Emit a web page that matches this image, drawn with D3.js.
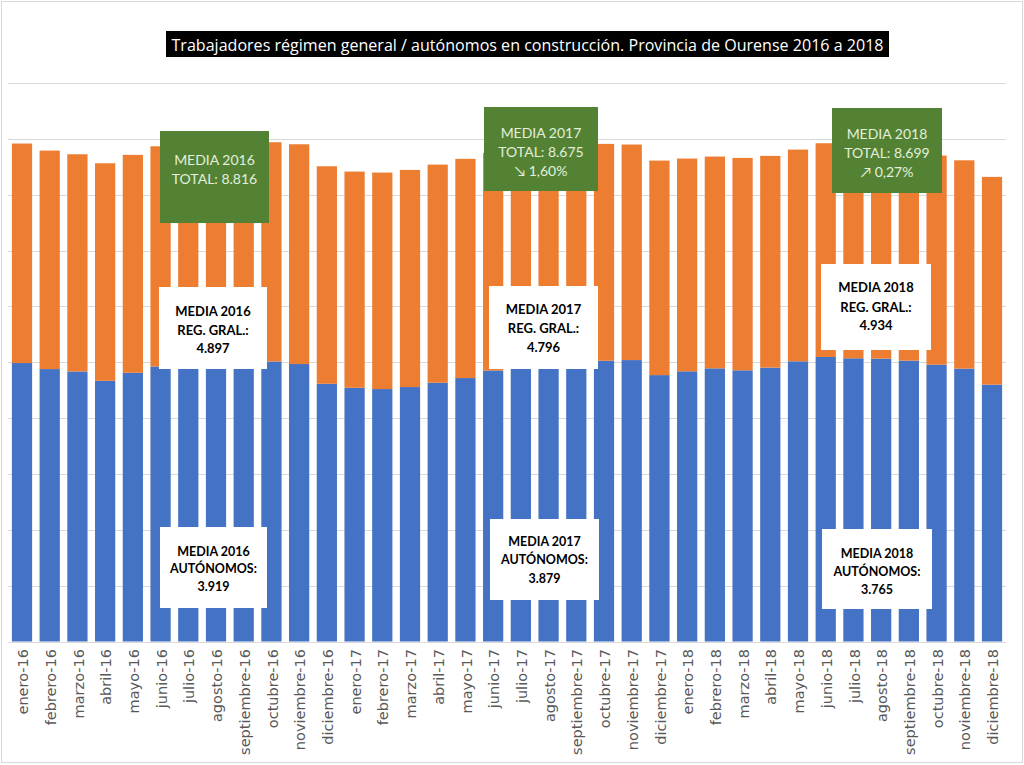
<!DOCTYPE html>
<html>
<head>
<meta charset="utf-8">
<script src="https://cdn.jsdelivr.net/npm/d3@7"></script>
<style>
  html, body { margin: 0; padding: 0; background: #fff; }
  svg { display: block; }
</style>
</head>
<body>
<svg id="chart" width="1024" height="765"></svg>
<script>
// ---------- DATA ----------
const months = [
  "enero-16","febrero-16","marzo-16","abril-16","mayo-16","junio-16","julio-16","agosto-16","septiembre-16","octubre-16","noviembre-16","diciembre-16",
  "enero-17","febrero-17","marzo-17","abril-17","mayo-17","junio-17","julio-17","agosto-17","septiembre-17","octubre-17","noviembre-17","diciembre-17",
  "enero-18","febrero-18","marzo-18","abril-18","mayo-18","junio-18","julio-18","agosto-18","septiembre-18","octubre-18","noviembre-18","diciembre-18"
];
// Régimen general (blue, bottom)
const regimenGeneral = [
  4986,4878,4835,4668,4812,4925,5030,5010,5023,5014,4968,4615,
  4543,4520,4556,4633,4717,4853,4950,4965,4979,5027,5039,4770,
  4838,4891,4856,4904,5017,5094,5071,5065,5029,4957,4886,4599
];
// Autónomos (orange, stacked on top)
const autonomos = [
  3930,3912,3889,3895,3901,3942,3945,3925,3935,3925,3935,3894,
  3871,3876,3888,3906,3925,3896,3885,3855,3863,3883,3859,3841,
  3809,3792,3803,3791,3791,3827,3779,3715,3680,3744,3730,3720
];
const yTicks = [0,1000,2000,3000,4000,5000,6000,7000,8000,9000,10000];
const title = "Trabajadores régimen general / autónomos en construcción. Provincia de Ourense 2016 a 2018";

const totalBoxes = [
  { lines: ["MEDIA 2016", "TOTAL: 8.816"] },
  { lines: ["MEDIA 2017", "TOTAL: 8.675", "↘ 1,60%"] },
  { lines: ["MEDIA 2018", "TOTAL: 8.699", "↗ 0,27%"] }
];
const regBoxes = [
  { lines: ["MEDIA 2016", "REG. GRAL.:", "4.897"] },
  { lines: ["MEDIA 2017", "REG. GRAL.:", "4.796"] },
  { lines: ["MEDIA 2018", "REG. GRAL.:", "4.934"] }
];
const autBoxes = [
  { lines: ["MEDIA 2016", "AUTÓNOMOS:", "3.919"] },
  { lines: ["MEDIA 2017", "AUTÓNOMOS:", "3.879"] },
  { lines: ["MEDIA 2018", "AUTÓNOMOS:", "3.765"] }
];

// ---------- LAYOUT ----------
const svg = d3.select("#chart");
const W = 1024, H = 765;
const blue = "#4472C4", orange = "#ED7D31", green = "#548235";

svg.append("rect").attr("x", 1.5).attr("y", 1.5).attr("width", W - 3).attr("height", H - 4)
  .attr("fill", "#fff").attr("stroke", "#d9d9d9").attr("stroke-width", 1);

const x = d3.scaleBand().domain(months).range([8, 1006]).paddingInner(0.27).paddingOuter(0.14);
const y = d3.scaleLinear().domain([0, 10000]).range([641.5, 83]);

// gridlines
svg.append("g").selectAll("line").data(yTicks).join("line")
  .attr("x1", 8).attr("x2", 1006)
  .attr("y1", d => Math.round(y(d)) + 0.5).attr("y2", d => Math.round(y(d)) + 0.5)
  .attr("stroke", "#d9d9d9").attr("stroke-width", 1);

// stacked data
const rows = months.map((m, i) => ({ month: m, reg: regimenGeneral[i], aut: autonomos[i] }));
const stack = d3.stack().keys(["reg", "aut"])(rows);
const colors = { reg: blue, aut: orange };

svg.append("g").selectAll("g").data(stack).join("g")
  .attr("fill", d => colors[d.key])
  .selectAll("rect").data(d => d).join("rect")
  .attr("x", d => x(d.data.month))
  .attr("width", x.bandwidth())
  .attr("y", d => y(d[1]))
  .attr("height", d => y(d[0]) - y(d[1]));

// x labels
const xl = svg.append("g").attr("font-family", "'DejaVu Sans', sans-serif").attr("font-size", 14.5)
  .attr("fill", "#595959");
xl.selectAll("text").data(months).join("text")
  .attr("transform", d => `translate(${x(d) + x.bandwidth() / 2 + 1},649) rotate(-90)`)
  .attr("text-anchor", "end").attr("dy", "0.35em")
  .text(d => d);

// title
svg.append("rect").attr("x", 166).attr("y", 31).attr("width", 723).attr("height", 26).attr("fill", "#000");
svg.append("text").attr("x", 527.5).attr("y", 44).attr("dominant-baseline", "central")
  .attr("text-anchor", "middle").attr("fill", "#fff")
  .attr("font-family", "'Open Sans', sans-serif").attr("font-size", 17)
  .attr("textLength", 712).attr("lengthAdjust", "spacingAndGlyphs")
  .text(title);

// annotation boxes
function drawBox(box, geom, fill, textFill, bold, fontSize) {
  const g = svg.append("g");
  g.append("rect").attr("x", geom.x).attr("y", geom.y).attr("width", geom.w).attr("height", geom.h).attr("fill", fill);
  box.lines.forEach((t, i) => {
    g.append("text").attr("x", geom.x + geom.w / 2).attr("y", geom.ly[i])
      .attr("text-anchor", "middle").attr("dominant-baseline", "central")
      .attr("font-family", "Lato, 'Open Sans', sans-serif")
      .attr("font-weight", bold ? "bold" : "normal")
      .attr("font-size", fontSize).attr("fill", textFill).text(t);
  });
}
const totalGeom = [
  { x: 160, y: 131, w: 109, h: 92, ly: [159, 178] },
  { x: 484, y: 107, w: 114, h: 84, ly: [132, 151, 170] },
  { x: 832, y: 108, w: 110, h: 85, ly: [133, 152, 171] }
];
const regGeom = [
  { x: 159, y: 287, w: 108, h: 82, ly: [311, 330, 348] },
  { x: 489, y: 286, w: 109, h: 83, ly: [309, 328, 347] },
  { x: 821, y: 264, w: 110, h: 86, ly: [287, 307, 325] }
];
const autGeom = [
  { x: 160, y: 527, w: 107, h: 81, ly: [551, 568, 586] },
  { x: 490, y: 519, w: 109, h: 81, ly: [541, 559, 578] },
  { x: 822, y: 529, w: 110, h: 80, ly: [553, 571, 589] }
];
totalBoxes.forEach((b, i) => drawBox(b, totalGeom[i], green, "#e2efda", false, 14));
regBoxes.forEach((b, i) => drawBox(b, regGeom[i], "#fff", "#000", true, 13));
autBoxes.forEach((b, i) => drawBox(b, autGeom[i], "#fff", "#000", true, 12.5));
</script>
</body>
</html>
